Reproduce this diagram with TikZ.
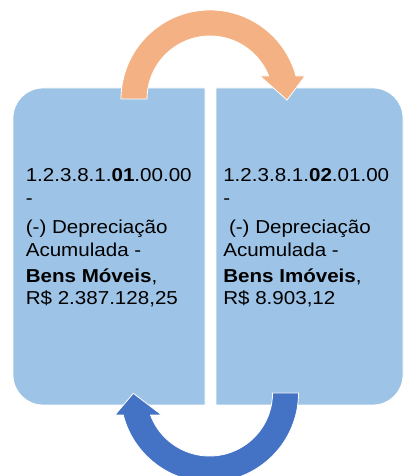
\documentclass[tikz,border=0pt]{standalone}
\usepackage{fontspec}
\setmainfont{Liberation Sans}[FakeStretch=1.1]
\usepackage{tikz}

\definecolor{boxblue}{HTML}{9DC3E6}
\definecolor{arroworange}{HTML}{F4B183}
\definecolor{arrowblue}{HTML}{4472C4}

\begin{document}
\begin{tikzpicture}[x=1pt, y=1pt, semithick]

    \tikzstyle{box}=[fill=boxblue, draw=white, line width=0.8pt]
    \tikzstyle{bigarrow}=[draw=white, line width=0.8pt]
    \tikzstyle{conta}=[anchor=north west, inner sep=0pt, align=left, text=black,
                       font=\fontsize{18.7}{22.5}\selectfont]

    \useasboundingbox (0,0) rectangle (405,476);

    % the two halves of the box
    \path[box] (205,388) -- (43,388) arc[start angle=90, end angle=180, radius=30pt]
        -- (13,101) arc[start angle=180, end angle=270, radius=30pt] -- (205,71) -- cycle;
    \path[box] (216,388) -- (373,388) arc[start angle=90, end angle=0, radius=30pt]
        -- (403,101) arc[start angle=0, end angle=-90, radius=30pt] -- (216,71) -- cycle;

    \node[conta] (moveis) at (25.5,307.7)
        {1.2.3.8.1.\textbf{01}.00.00\\-\\[7pt](-) Depreciação\\Acumulada -\\[3.7pt]%
         \textbf{Bens Móveis},\\R\$ 2.387.128,25};
    \node[conta] (imoveis) at (223,307.7)
        {1.2.3.8.1.\textbf{02}.01.00\\-\\[7pt]~(-) Depreciação\\Acumulada -\\[3.7pt]%
         \textbf{Bens Imóveis},\\R\$ 8.903,12};

    % circular arrows
    \path[bigarrow, fill=arroworange, shift={(210,377)}]
        (-63,0) -- (-89,0) arc[start angle=180, end angle=15, radius=89pt]
        -- (95,23) -- (77,-1) -- (50,23) -- (58.7,23)
        arc[start angle=21.4, end angle=180, radius=63pt] -- cycle;
    \path[bigarrow, fill=arrowblue, shift={(209.5,83)}]
        (63,0) -- (89,0) arc[start angle=0, end angle=-165.7, radius=89pt]
        -- (-94.5,-22) -- (-76.2,-0.3) -- (-47.8,-22) -- (-59,-22)
        arc[start angle=-159.6, end angle=0, radius=63pt] -- cycle;

\end{tikzpicture}
\end{document}
